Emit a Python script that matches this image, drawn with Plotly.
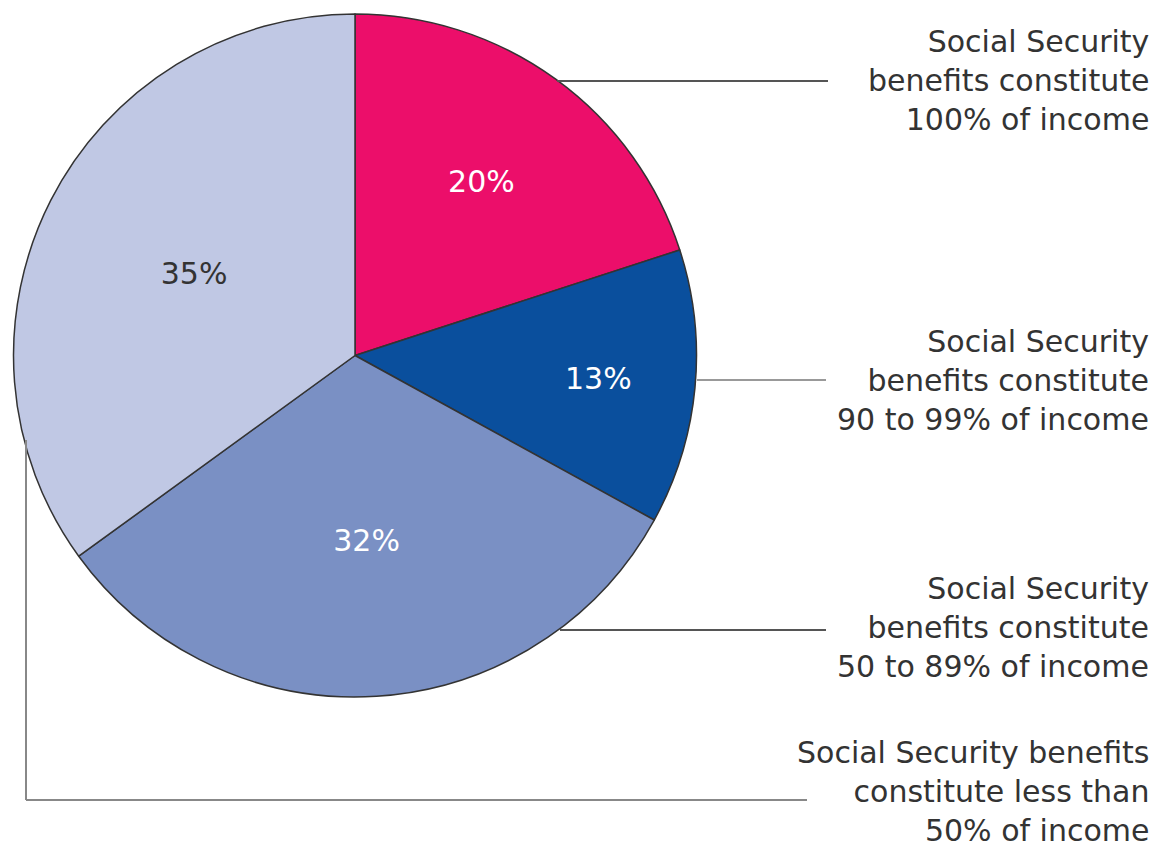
import plotly.graph_objects as go

categories = [
    "Social Security benefits constitute 100% of income",
    "Social Security benefits constitute 90 to 99% of income",
    "Social Security benefits constitute 50 to 89% of income",
    "Social Security benefits constitute less than 50% of income",
]
values = [20, 13, 32, 35]
slice_colors = ["#EC0E6A", "#0A4F9D", "#7A90C4", "#C0C8E4"]
text_colors = ["white", "white", "white", "#333333"]
callouts = [
    "Social Security<br>benefits constitute<br>100% of income",
    "Social Security<br>benefits constitute<br>90 to 99% of income",
    "Social Security<br>benefits constitute<br>50 to 89% of income",
    "Social Security benefits<br>constitute less than<br>50% of income",
]

W, H = 1157, 852
FONT = "DejaVu Sans"

def px(x):
    return x / W

def py(y):
    return 1 - y / H

fig = go.Figure(go.Pie(
    labels=categories,
    values=values,
    sort=False,
    direction="clockwise",
    rotation=0,
    marker=dict(colors=slice_colors, line=dict(color="#333333", width=1.5)),
    texttemplate="%{percent:.0%}",
    textposition="inside",
    insidetextorientation="horizontal",
    insidetextfont=dict(family=FONT, size=30, color=text_colors),
    hoverinfo="label+percent",
    domain=dict(x=[px(13), px(697)], y=[py(697), py(14)]),
    showlegend=False,
))

# leader lines
line_style = dict(color="#555555", width=2)
shapes = [
    dict(type="line", xref="paper", yref="paper", x0=px(557), y0=py(81), x1=px(828), y1=py(81), line=line_style),
    dict(type="line", xref="paper", yref="paper", x0=px(697), y0=py(380), x1=px(826), y1=py(380), line=dict(color="#999999", width=2)),
    dict(type="line", xref="paper", yref="paper", x0=px(560), y0=py(630), x1=px(826), y1=py(630), line=line_style),
    dict(type="line", xref="paper", yref="paper", x0=px(26), y0=py(440), x1=px(26), y1=py(800), line=dict(color="#888888", width=2)),
    dict(type="line", xref="paper", yref="paper", x0=px(26), y0=py(800), x1=px(807), y1=py(800), line=dict(color="#888888", width=2)),
]

callout_y = [80, 380, 627, 791]
annotations = []
for txt, yc in zip(callouts, callout_y):
    annotations.append(dict(
        text=txt, xref="paper", yref="paper", x=px(1151), y=py(yc),
        xanchor="right", yanchor="middle", align="right", showarrow=False,
        font=dict(family=FONT, size=30, color="#333333"),
    ))

fig.update_layout(
    width=W, height=H,
    margin=dict(l=0, r=0, t=0, b=0),
    paper_bgcolor="white",
    plot_bgcolor="white",
    shapes=shapes,
    annotations=annotations,
)

fig.write_html(
    "out.html",
    config={"displayModeBar": False},
    post_script="document.body.style.margin='0';document.body.style.overflow='hidden';",
)
